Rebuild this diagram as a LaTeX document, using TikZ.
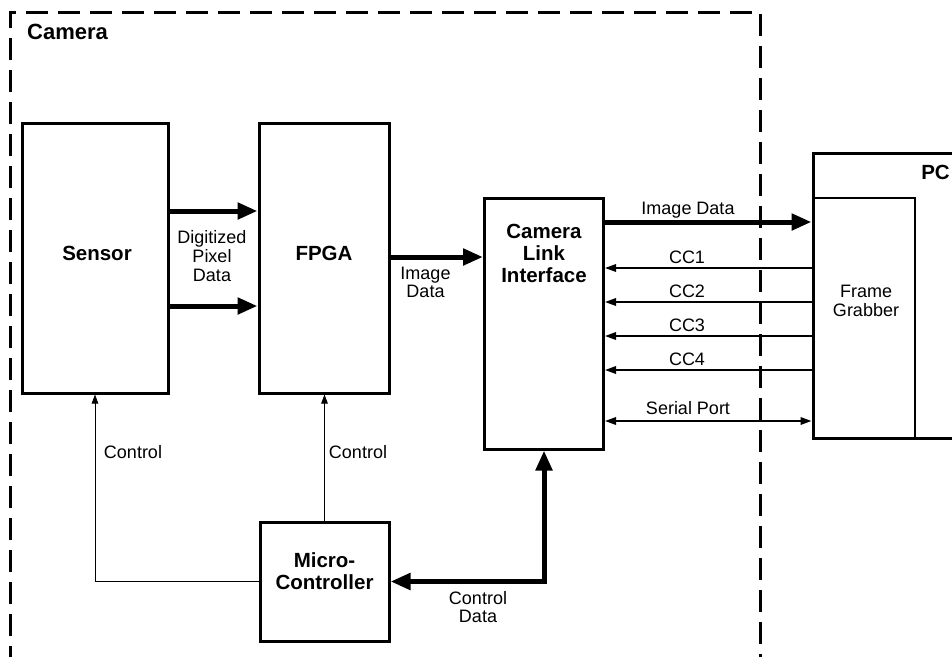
\documentclass[tikz,border=0pt]{standalone}
\usepackage{fontspec}
\setmainfont{Liberation Sans}
\usetikzlibrary{arrows.meta}
\begin{document}
\begin{tikzpicture}[x=1pt,y=-1pt,
  box/.style={draw, line width=3pt, inner sep=0pt},
  lbl/.style={font=\fontsize{18}{18.7}\selectfont, inner sep=0pt, align=center},
  blbl/.style={font=\fontsize{20.5}{22}\selectfont\bfseries, inner sep=0pt, align=center},
  bigarrow/.style={line width=5pt, -{Triangle[length=20pt,width=16pt]}},
  ccarrow/.style={line width=1.8pt, -{Triangle[length=11pt,width=7.5pt]}},
  ctlarrow/.style={-{Triangle[length=9pt,width=6.5pt]}},
]
\useasboundingbox (0,0) rectangle (952,656);
\clip (0,0) rectangle (952,656);
\fill[white] (0,0) rectangle (952,656);

% camera enclosure
\draw[line width=3pt, dash pattern=on 22pt off 10pt] (10,700) -- (10,12) -- (760,12) -- (760,700);
\node[font=\fontsize{22}{24}\selectfont\bfseries, anchor=west, inner sep=0pt] (camlbl) at (27,32) {Camera};

% blocks
\node[box, minimum width=146pt, minimum height=270pt] (sensor) at (95,258) {};
\node[blbl] (sensortxt) at (97,253) {Sensor};
\node[box, minimum width=130pt, minimum height=270pt] (fpga) at (324,258) {};
\node[blbl] (fpgatxt) at (324,253) {FPGA};
\node[box, minimum width=119pt, minimum height=251pt] (cli) at (544,323.5) {};
\node[blbl] (clitxt) at (544,253) {Camera\\Link\\Interface};
\node[box, minimum width=129pt, minimum height=119pt] (micro) at (324.5,581.5) {};
\node[blbl] (microtxt) at (324.5,571) {Micro-\\Controller};

% PC
\node[draw, line width=1.2pt, inner sep=0pt, minimum width=102pt, minimum height=240pt] (fg) at (864,318) {};
\node[box, minimum width=200pt, minimum height=285pt] (pc) at (913,295.5) {};
\node[blbl] (pclbl) at (935.5,172) {PC};
\node[lbl] (fgtxt) at (866,301) {Frame\\Grabber};

% row coordinates
\coordinate (d1) at (0,211);
\coordinate (d2) at (0,306);
\coordinate (im) at (0,257);
\coordinate (r0) at (0,222);
\coordinate (r1) at (0,268);
\coordinate (r2) at (0,302);
\coordinate (r3) at (0,336);
\coordinate (r4) at (0,370);
\coordinate (r5) at (0,421);

% sensor -> fpga
\draw[bigarrow] (sensor.east |- d1) -- (fpga.west |- d1);
\draw[bigarrow] (sensor.east |- d2) -- (fpga.west |- d2);
\node[lbl] (dpd) at (212,256) {Digitized\\Pixel\\Data};

% fpga -> cli
\draw[bigarrow] (fpga.east |- im) -- (cli.west |- im);
\node[lbl] (imd1) at (425.5,282.5) {Image\\Data};

% cli <-> pc
\draw[bigarrow] (cli.east |- r0) -- (pc.west |- r0);
\node[lbl, anchor=base] (imd2) at (688,214.5) {Image Data};
\draw[ccarrow] (pc.west |- r1) -- (cli.east |- r1);
\node[lbl, anchor=base] (cc1) at (687,263.5) {CC1};
\draw[ccarrow] (pc.west |- r2) -- (cli.east |- r2);
\node[lbl, anchor=base] (cc2) at (687,297.5) {CC2};
\draw[ccarrow] (pc.west |- r3) -- (cli.east |- r3);
\node[lbl, anchor=base] (cc3) at (687,331.5) {CC3};
\draw[ccarrow] (pc.west |- r4) -- (cli.east |- r4);
\node[lbl, anchor=base] (cc4) at (687,365.5) {CC4};
\draw[line width=1.8pt, {Triangle[length=11pt,width=7.5pt]}-{Triangle[length=11pt,width=7.5pt]}] (cli.east |- r5) -- (pc.west |- r5);
\node[lbl, anchor=base] (sp) at (688,414.5) {Serial Port};

% control lines
\draw[ctlarrow, line width=0.8pt] (micro.west) -| (sensor.south);
\node[lbl] (ctl1) at (133,452) {Control};
\draw[ctlarrow, line width=1pt] (micro.north) -- (micro.north |- fpga.south);
\node[lbl] (ctl2) at (358,452) {Control};

% control data
\draw[line width=5pt, {Triangle[length=20pt,width=16pt]}-{Triangle[length=20pt,width=16pt]}] (micro.east) -| (cli.south);
\node[lbl] (cdt) at (478,607) {Control\\Data};
\end{tikzpicture}
\end{document}
